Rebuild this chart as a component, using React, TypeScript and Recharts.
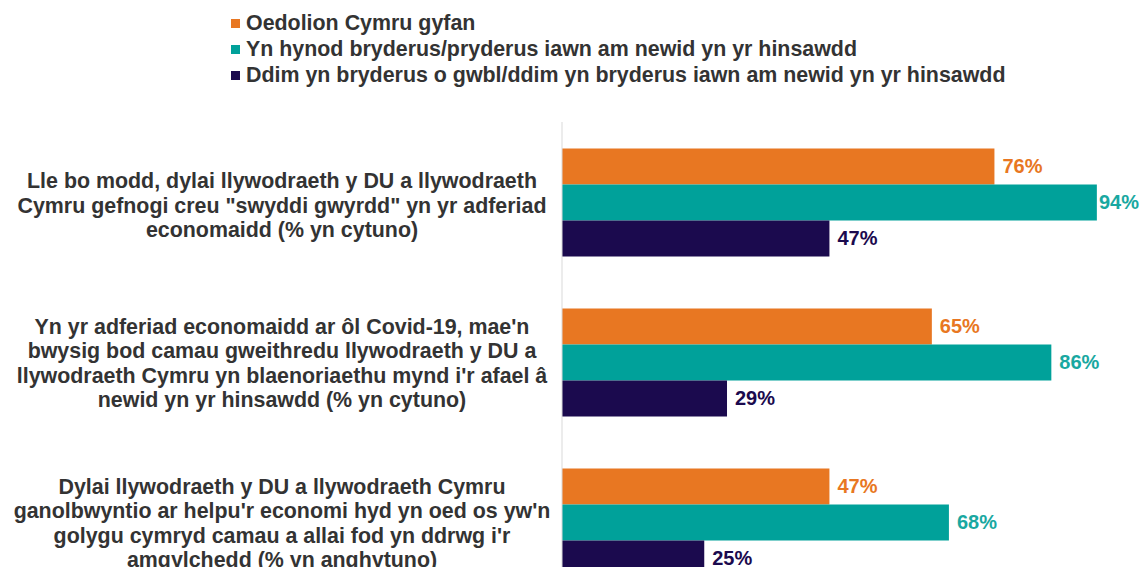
import { BarChart, Bar, XAxis, YAxis, Legend, LabelList } from 'recharts';

const CATEGORIES = [
  'Lle bo modd, dylai llywodraeth y DU a llywodraeth\nCymru gefnogi creu "swyddi gwyrdd" yn yr adferiad\neconomaidd (% yn cytuno)',
  "Yn yr adferiad economaidd ar ôl Covid-19, mae'n\nbwysig bod camau gweithredu llywodraeth y DU a\nllywodraeth Cymru yn blaenoriaethu mynd i'r afael â\nnewid yn yr hinsawdd (% yn cytuno)",
  "Dylai llywodraeth y DU a llywodraeth Cymru\nganolbwyntio ar helpu'r economi hyd yn oed os yw'n\ngolygu cymryd camau a allai fod yn ddrwg i'r\namgylchedd (% yn anghytuno)",
];

const SERIES_NAMES = [
  'Oedolion Cymru gyfan',
  'Yn hynod bryderus/pryderus iawn am newid yn yr hinsawdd',
  'Ddim yn bryderus o gwbl/ddim yn bryderus iawn am newid yn yr hinsawdd',
];

const ALL_ADULTS = [76, 65, 47];
const CONCERNED = [94, 86, 68];
const NOT_CONCERNED = [47, 29, 25];

const COLORS = ['#E87722', '#00A19A', '#1B0A4E'];
const LABEL_COLORS = ['#E87722', '#19A8A1', '#1B0A4E'];
const KEYS = ['all', 'concerned', 'notConcerned'];

const WIDTH = 1141;
const FONT = '"Liberation Sans", Arial, sans-serif';

const data = CATEGORIES.map((name, i) => ({
  name,
  all: ALL_ADULTS[i],
  concerned: CONCERNED[i],
  notConcerned: NOT_CONCERNED[i],
}));

function CategoryTick({ y, payload }: any) {
  const lines = String(payload.value).split('\n');
  const lh = 24.5;
  const shift = lines.length > 3 ? -2 : 0;
  return (
    <text
      textAnchor="middle"
      fill="#333333"
      fontSize={21.4}
      fontWeight="bold"
      fontFamily={FONT}
    >
      {lines.map((line, i) => (
        <tspan key={i} x={282} y={y + (i - (lines.length - 1) / 2) * lh + 10.5 + shift}>
          {line}
        </tspan>
      ))}
    </text>
  );
}

function makeLabel(color: string) {
  return (props: any) => {
    const { x, y, width, height, value } = props;
    const lx = Math.min(x + width + 8, WIDTH - 42);
    return (
      <text
        x={lx}
        y={y + height / 2 + 7}
        fill={color}
        fontSize={20}
        fontWeight="bold"
        fontFamily={FONT}
      >
        {value}%
      </text>
    );
  };
}

function LegendContent() {
  return (
    <div style={{ height: 100, fontFamily: FONT, fontSize: 21.4, fontWeight: 'bold', color: '#333333' }}>
      {SERIES_NAMES.map((n, i) => (
        <div key={n} style={{ display: 'flex', alignItems: 'center', height: 26, whiteSpace: 'nowrap' }}>
          <span
            style={{ width: 9, height: 9, background: COLORS[i], marginRight: 6, display: 'inline-block' }}
          />
          {n}
        </div>
      ))}
    </div>
  );
}

export default function App() {
  return (
    <div style={{ position: 'absolute', left: 0, top: 0, width: WIDTH, height: 567, overflow: 'hidden', background: '#fff' }}>
      <BarChart
        width={WIDTH}
        height={620}
        data={data}
        layout="vertical"
        margin={{ top: 22, right: 10, bottom: 18, left: 0 }}
        barCategoryGap="16.5%"
        barGap={0}
      >
        <XAxis type="number" domain={[0, 100]} hide />
        <YAxis
          type="category"
          dataKey="name"
          width={562}
          axisLine={{ stroke: '#D9D9D9' }}
          tickLine={false}
          tick={<CategoryTick />}
        />
        <Legend
          verticalAlign="top"
          align="left"
          content={<LegendContent />}
          wrapperStyle={{ top: 10, left: 231, width: 'auto' }}
        />
        {KEYS.map((k, i) => (
          <Bar key={k} dataKey={k} name={SERIES_NAMES[i]} fill={COLORS[i]} isAnimationActive={false}>
            <LabelList dataKey={k} content={makeLabel(LABEL_COLORS[i])} />
          </Bar>
        ))}
      </BarChart>
    </div>
  );
}
